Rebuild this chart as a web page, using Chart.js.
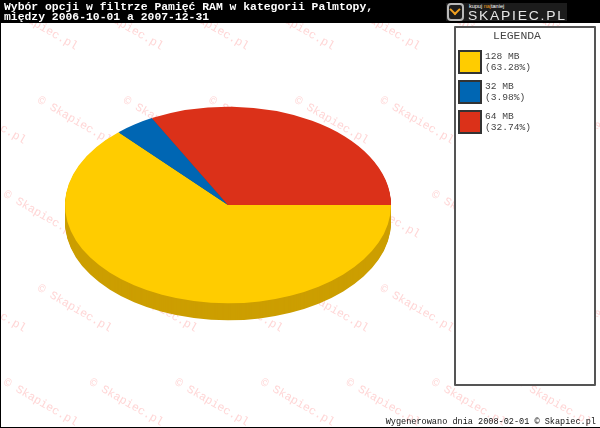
<!DOCTYPE html>
<html>
<head>
<meta charset="utf-8">
<title>Palmtopy</title>
<script src="https://cdn.jsdelivr.net/npm/chart.js@4"></script>
<style>
  html, body { margin: 0; padding: 0; background: #fff; }
  #wrap { position: relative; width: 600px; height: 428px; overflow: hidden; font-family: "Liberation Mono", monospace; }
  canvas { position: absolute; left: 0; top: 0; }
  #logo { position: absolute; left: 446px; top: 3px; width: 121px; height: 18px; background: #1c1c1c; }
  #logo .icon { position: absolute; left: 1px; top: 0; width: 13px; height: 14px; border: 2px solid #b9b9b9; border-radius: 4px; }
  #logo .icon i { position: absolute; left: 2px; top: 2px; width: 6px; height: 6px; border-right: 2px solid #f0a020; border-bottom: 2px solid #f0a020; transform: rotate(45deg) translate(-1px,-1px); }
  #logo .small { position: absolute; left: 23px; top: 0; font: 5.5px "Liberation Sans", sans-serif; color: #fff; white-space: nowrap; }
  #logo .small b { color: #f0a020; font-weight: normal; }
  #logo .big { position: absolute; left: 22px; top: 7px; font: 12px/12px "Liberation Sans", sans-serif; color: #e6e6e6; letter-spacing: 1.5px; white-space: nowrap; transform-origin: left top; transform: scaleX(1.16); }
  #legend { position: absolute; left: 454px; top: 26px; width: 138px; height: 356px; background: #fff; border: 2px solid #555; border-radius: 1px; color: #444; }
  #legend .head { position: absolute; left: 0; width: 122px; top: 2px; text-align: center; font-size: 11.4px; line-height: 13px; }
  #legend .item { position: absolute; left: 2px; height: 24px; }
  #legend .swatch { position: absolute; left: 0; top: 0; width: 20px; height: 20px; border: 2px solid #333; }
  #legend .label { position: absolute; left: 27px; top: 1px; font-size: 9.6px; line-height: 11px; white-space: pre; }
</style>
</head>
<body>
<div id="wrap">
  <canvas id="pieChart" width="600" height="428"></canvas>
  <div id="logo">
    <div class="icon"><i></i></div>
    <div class="small">kupuj <b>naj</b>taniej</div>
    <div class="big">SKAPIEC.PL</div>
  </div>
  <div id="legend"><div class="head">LEGENDA</div></div>
</div>
<script>
const categories = ["128 MB", "32 MB", "64 MB"];
const shares = [63.28, 3.98, 32.74];
const topColors = ["#ffcc00", "#0066b3", "#db3119"];
const sideColors = ["#cc9e00", "#00508c", "#ab2512"];
const titleLines = ["Wybór opcji w filtrze Pamięć RAM w kategorii Palmtopy,", "między 2006-10-01 a 2007-12-31"];
const footerText = "Wygenerowano dnia 2008-02-01 © Skapiec.pl";
const watermarkText = "© Skapiec.pl";

const squash = 0.603;
const depth = 17;

// white page, pink watermark, black header and frame
const backdrop = {
    id: "backdrop",
    beforeDraw(chart) {
        const ctx = chart.ctx;
        ctx.save();
        ctx.fillStyle = "#fff";
        ctx.fillRect(0, 0, 600, 428);

        ctx.fillStyle = "#ffd6d6";
        ctx.font = "11.6px 'Liberation Mono'";
        ctx.textBaseline = "middle";
        for (let row = 0; row < 5; row++) {
            const y = 7 + row * 94;
            const startX = row % 2 ? 41 : 7;
            for (let col = -1; col < 8; col++) {
                ctx.save();
                ctx.translate(startX + col * 85.6, y);
                ctx.rotate(Math.PI / 6);
                ctx.fillText(watermarkText, -3, 0);
                ctx.restore();
            }
        }

        ctx.fillStyle = "#000";
        ctx.fillRect(0, 0, 600, 23);
        ctx.fillRect(0, 0, 1, 428);
        ctx.fillRect(0, 427, 600, 1);

        ctx.fillStyle = "#fff";
        ctx.font = "bold 11.4px 'Liberation Mono'";
        ctx.textBaseline = "alphabetic";
        titleLines.forEach((line, i) => ctx.fillText(line, 4, 10 + i * 10));

        ctx.fillStyle = "#111";
        ctx.font = "8.55px 'Liberation Mono'";
        ctx.textAlign = "right";
        ctx.fillText(footerText, 596, 424);
        ctx.restore();
    },
};

// Chart.js arcs are round, so flatten them and stack darker copies for the side
const flatPie = {
    id: "flatPie",
    beforeDatasetsDraw(chart) {
        const ctx = chart.ctx;
        const arcs = chart.getDatasetMeta(0).data;
        const cy = arcs[0].y;

        for (let dy = depth; dy >= 1; dy--) {
            ctx.save();
            ctx.translate(0, cy + dy);
            ctx.scale(1, squash);
            ctx.translate(0, -cy);
            arcs.forEach((arc, i) => {
                const saved = arc.options;
                arc.options = Object.create(saved, {
                    backgroundColor: { value: sideColors[i] },
                });
                arc.draw(ctx);
                arc.options = saved;
            });
            ctx.restore();
        }

        ctx.save();
        ctx.translate(0, cy);
        ctx.scale(1, squash);
        ctx.translate(0, -cy);
    },
    afterDatasetsDraw(chart) {
        chart.ctx.restore();
    },
};

new Chart(document.getElementById("pieChart").getContext("2d"), {
    type: "pie",
    data: {
        labels: categories,
        datasets: [{
            data: shares,
            backgroundColor: topColors,
            borderWidth: 0,
        }],
    },
    options: {
        responsive: false,
        animation: false,
        rotation: 90,
        layout: { padding: { left: 65, right: 209, top: 42, bottom: 60 } },
        plugins: {
            legend: { display: false },
            tooltip: { enabled: false },
        },
    },
    plugins: [backdrop, flatPie],
});

// Legend box
const legendBox = document.getElementById("legend");
categories.forEach((name, i) => {
    const item = document.createElement("div");
    item.className = "item";
    item.style.top = 22 + i * 30 + "px";
    item.innerHTML = `<div class="swatch" style="background:${topColors[i]}"></div>` +
        `<div class="label">${name}\n(${shares[i].toFixed(2)}%)</div>`;
    legendBox.appendChild(item);
});
</script>
</body>
</html>
